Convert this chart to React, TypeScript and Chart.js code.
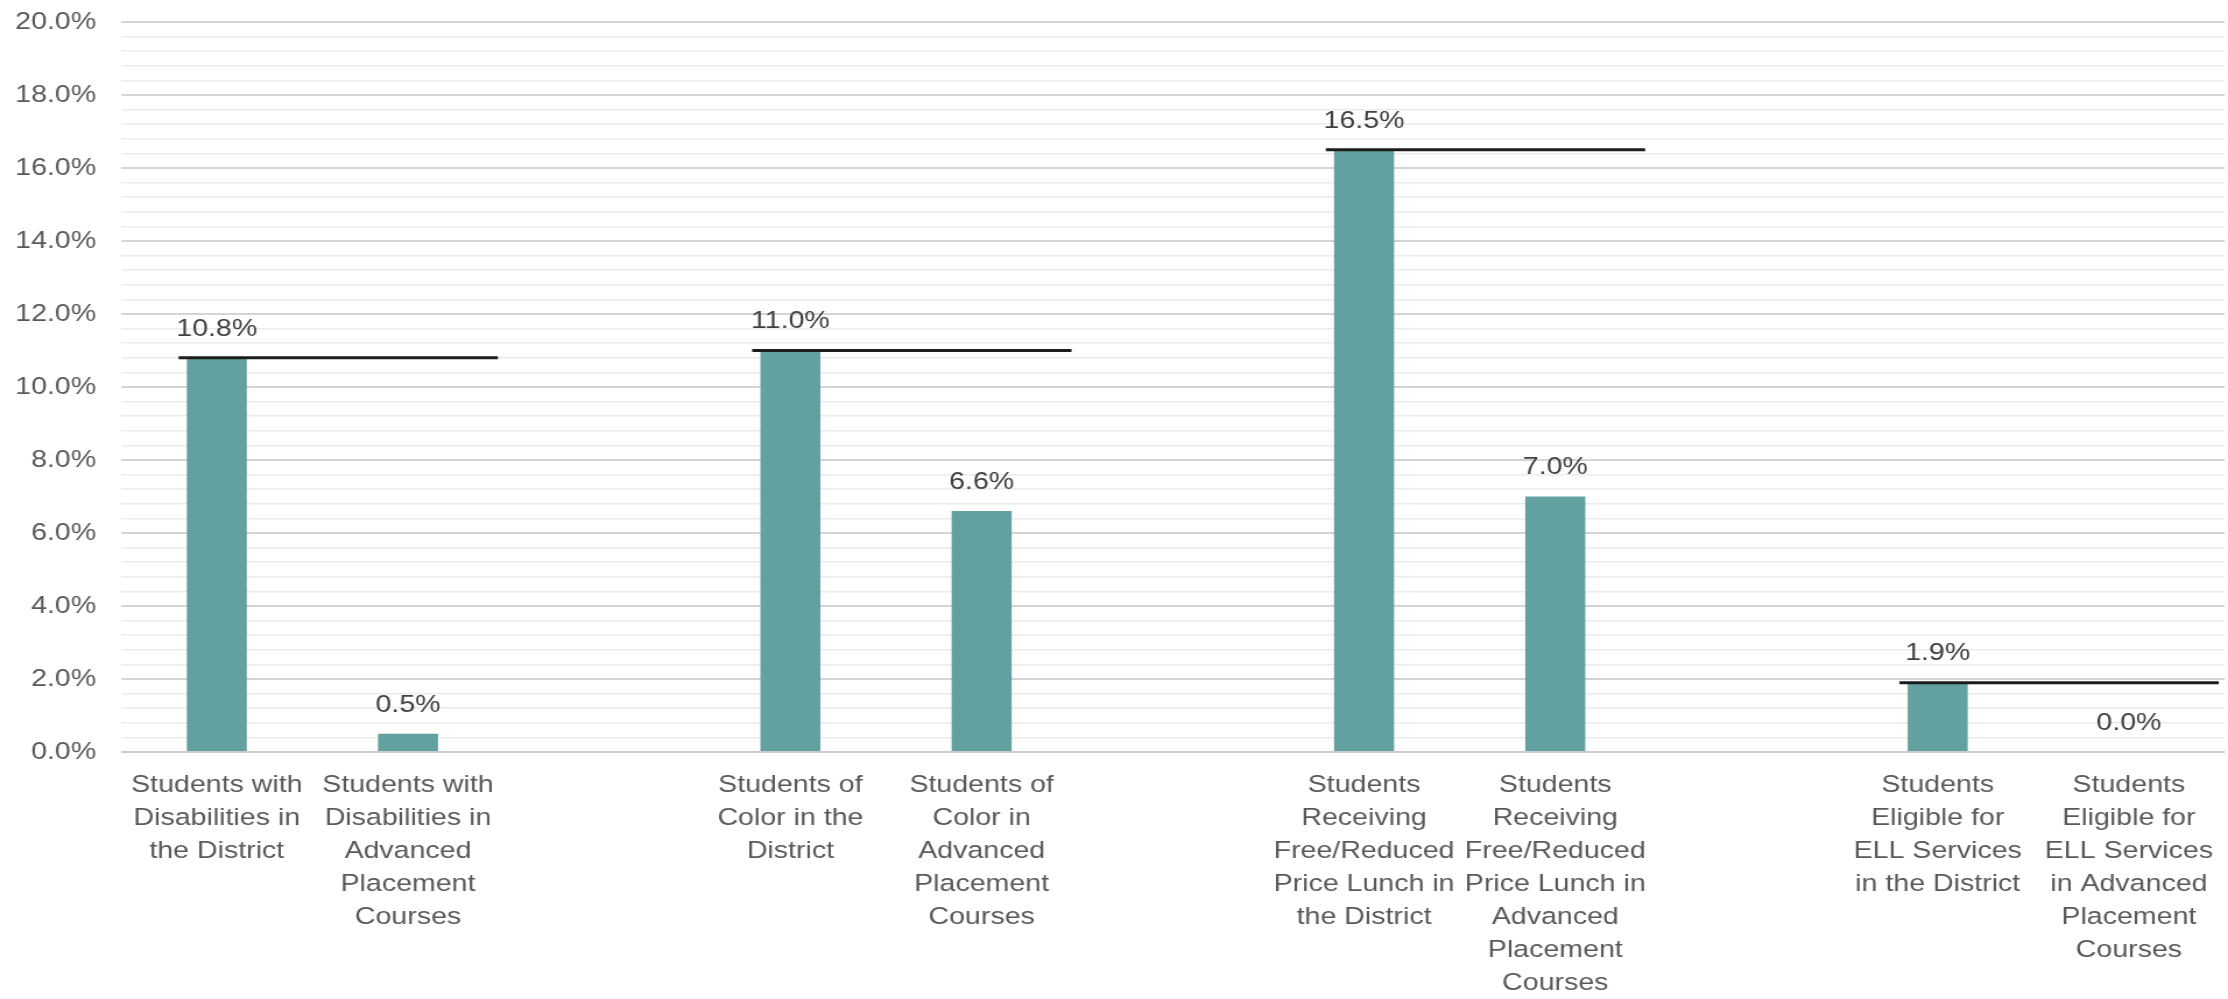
import { useEffect, useRef } from "react";
import { Chart, registerables } from "chart.js";

Chart.register(...registerables);

// ---------- data ----------
const categoryLabels: string[][] = [
  ["Students with", "Disabilities in", "the District"],
  ["Students with", "Disabilities in", "Advanced", "Placement", "Courses"],
  [""],
  ["Students of", "Color in the", "District"],
  ["Students of", "Color in", "Advanced", "Placement", "Courses"],
  [""],
  ["Students", "Receiving", "Free/Reduced", "Price Lunch in", "the District"],
  ["Students", "Receiving", "Free/Reduced", "Price Lunch in", "Advanced", "Placement", "Courses"],
  [""],
  ["Students", "Eligible for", "ELL Services", "in the District"],
  ["Students", "Eligible for", "ELL Services", "in Advanced", "Placement", "Courses"],
];

const barValues: (number | null)[] = [10.8, 0.5, null, 11.0, 6.6, null, 16.5, 7.0, null, 1.9, 0.0];

// reference lines: district value carried across each pair
const districtCategoryIndex = [0, 3, 6, 9];
const districtLineValues = [10.8, 11.0, 16.5, 1.9];

const yMin = 0;
const yMax = 20;
const yMajorStep = 2;
const yMinorStep = 0.4;

// ---------- styling / layout ----------
const PAGE_W = 2228;
const PAGE_H = 999;
const STRETCH = 1.165; // reference is horizontally stretched
const CANVAS_W = Math.round(PAGE_W / STRETCH);
const FONT_FAMILY = '"Liberation Sans", Arial, sans-serif';
const FONT_SIZE = 24.5;
const BAR_COLOR = "#62a19f";
const LINE_COLOR = "#1c1c1c";
const LINE_START_OFFSET = -0.2;
const LINE_END_OFFSET = 0.47;

const isMajor = (v: number) => Math.abs(v / yMajorStep - Math.round(v / yMajorStep)) < 1e-6;

const barPoints = barValues
  .map((v, i) => (v === null ? null : { x: i, y: v }))
  .filter((p) => p !== null) as { x: number; y: number }[];

const valueLabelPlugin = {
  id: "valueLabels",
  afterDatasetsDraw(chart: any) {
    const meta = chart.getDatasetMeta(0);
    const ctx = chart.ctx;
    ctx.save();
    ctx.font = `${FONT_SIZE}px ${FONT_FAMILY}`;
    ctx.fillStyle = "#404040";
    ctx.textAlign = "center";
    ctx.textBaseline = "middle";
    meta.data.forEach((el: any, i: number) => {
      const p = barPoints[i];
      if (!p) return;
      ctx.fillText(p.y.toFixed(1) + "%", el.x, el.y - 29);
    });
    ctx.restore();
  },
};

export default function App() {
  const canvasRef = useRef<HTMLCanvasElement | null>(null);

  useEffect(() => {
    const canvas = canvasRef.current;
    if (!canvas) return;

    const lineDatasets = districtCategoryIndex.map((idx, g) => ({
      type: "line" as const,
      data: [
        { x: idx + LINE_START_OFFSET, y: districtLineValues[g] },
        { x: idx + 1 + LINE_END_OFFSET, y: districtLineValues[g] },
      ],
      borderColor: LINE_COLOR,
      borderWidth: 3,
      pointRadius: 0,
      fill: false,
      order: 1,
    }));

    const chart = new Chart(canvas, {
      type: "bar",
      data: {
        datasets: [
          {
            type: "bar",
            data: barPoints as any,
            backgroundColor: BAR_COLOR,
            borderWidth: 0,
            barPercentage: 0.314,
            categoryPercentage: 1,
            grouped: false,
            order: 2,
          } as any,
          ...(lineDatasets as any),
        ],
      },
      options: {
        responsive: false,
        animation: false,
        devicePixelRatio: 1,
        layout: { padding: { left: 13, right: 3, top: 22, bottom: 0 } },
        plugins: {
          legend: { display: false },
          tooltip: { enabled: false },
        },
        scales: {
          x: {
            type: "linear",
            min: -0.5,
            max: categoryLabels.length - 0.5,
            offset: false,
            grid: { display: false, drawTicks: false },
            border: { display: false },
            afterBuildTicks: (s: any) => {
              s.ticks = categoryLabels.map((_, i) => ({ value: i }));
            },
            ticks: {
              autoSkip: false,
              maxRotation: 0,
              minRotation: 0,
              padding: 16.5,
              color: "#595959",
              font: { family: FONT_FAMILY, size: FONT_SIZE, lineHeight: 1.35 },
              callback: (_v: any, index: number) => categoryLabels[index] ?? "",
            },
            afterFit: (s: any) => {
              s.height = 247;
              s.paddingLeft = 0;
              s.paddingRight = 0;
            },
          },
          y: {
            min: yMin,
            max: yMax,
            border: { display: false },
            grid: {
              drawTicks: false,
              color: (c: any) => {
                const v = c.tick ? c.tick.value : 0;
                if (v === 0) return "#cbcbcb";
                return isMajor(v) ? "#d4d4d4" : "#ebebeb";
              },
              lineWidth: (c: any) => {
                const v = c.tick ? c.tick.value : 0;
                return isMajor(v) ? 2 : 1.5;
              },
            },
            ticks: {
              stepSize: yMinorStep,
              autoSkip: false,
              maxTicksLimit: 1000,
              padding: 21.5,
              color: "#595959",
              font: { family: FONT_FAMILY, size: FONT_SIZE },
              callback: (v: any) => (isMajor(Number(v)) ? Number(v).toFixed(1) + "%" : ""),
            },
            afterFit: (s: any) => {
              s.width = 91;
              s.paddingTop = 0;
              s.paddingBottom = 0;
            },
          },
        },
      } as any,
      plugins: [valueLabelPlugin],
    });

    return () => chart.destroy();
  }, []);

  return (
    <div
      style={{
        position: "fixed",
        left: 0,
        top: 0,
        width: PAGE_W,
        height: PAGE_H,
        background: "#ffffff",
      }}
    >
      <canvas
        ref={canvasRef}
        width={CANVAS_W}
        height={PAGE_H}
        style={{ width: PAGE_W + "px", height: PAGE_H + "px", display: "block" }}
      />
    </div>
  );
}
